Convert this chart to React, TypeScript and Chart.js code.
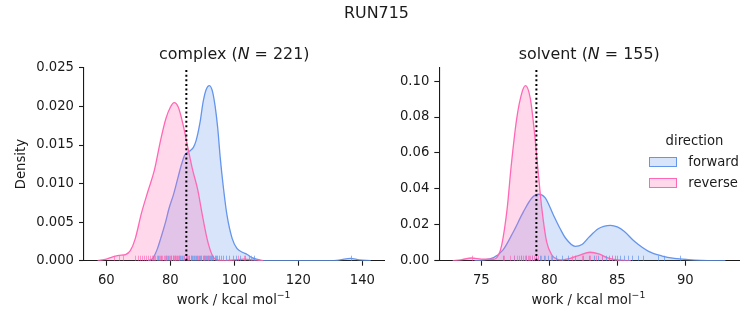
import React, { useEffect, useRef } from 'react';
import { Chart, registerables } from 'chart.js';

Chart.register(...registerables);

// ---------- text ----------
const SUPTITLE = 'RUN715';
const X_LABEL = 'work / kcal mol';
const X_LABEL_SUP = '\u22121';
const Y_LABEL = 'Density';
const LEGEND_TITLE = 'direction';
const SERIES_NAMES = ['forward', 'reverse'];
const PANEL_NAMES = ['complex', 'solvent'];
const PANEL_N = [221, 155];

// ---------- complex panel ----------
const complexForwardX = [73, 74.5, 76, 77, 78.5, 79.6, 81, 82.4, 83.5, 84.5, 85.5, 86.3, 87.2, 88, 89.3, 90.2, 91.2, 92.2, 93.2, 94, 94.8, 95.6, 96.6, 97.7, 99.3, 100.8, 102.5, 104, 105.5, 107, 109, 130, 133, 136.3, 139, 142.6];
const complexForwardY = [0, 0.0003, 0.0016, 0.0029, 0.005, 0.0068, 0.0086, 0.0108, 0.0125, 0.0137, 0.0141, 0.0143, 0.0147, 0.0155, 0.018, 0.0205, 0.0222, 0.0227, 0.0219, 0.02, 0.0172, 0.0133, 0.0094, 0.0059, 0.0029, 0.0016, 0.0011, 0.0008, 0.0004, 0.0002, 0, 0, 0.0001, 0.0003, 0.0001, 0];
const complexReverseX = [57.3, 60, 62, 64, 66, 67.5, 69, 71, 73, 75, 77, 78.6, 80, 81.2, 82.5, 84, 85.5, 87, 88.5, 90, 91.5, 93, 94.5, 97, 100, 103, 106, 109];
const complexReverseY = [0, 0.0002, 0.0005, 0.0007, 0.0008, 0.0013, 0.0028, 0.0062, 0.009, 0.0117, 0.0157, 0.0184, 0.0199, 0.0205, 0.0199, 0.0176, 0.0146, 0.0117, 0.0093, 0.0059, 0.0028, 0.0008, 0.0001, 0, 0.0001, 0.0002, 0.0001, 0];
const complexForwardRug = [74.6, 76.2, 77.0, 78.5, 79.3, 80.1, 80.8, 81.5, 82.0, 82.6, 83.1, 83.7, 84.2, 84.8, 85.3, 85.9, 86.4, 86.8, 87.3, 87.9, 88.4, 88.8, 89.2, 89.7, 90.1, 90.5, 90.9, 91.2, 91.5, 91.8, 92.1, 92.4, 92.7, 93.0, 93.4, 93.8, 94.2, 94.7, 95.3, 95.9, 96.6, 97.4, 98.3, 99.5, 100.6, 101.8, 103.2, 104.5, 106.0, 136.4];
const complexReverseRug = [62.5, 64.0, 65.1, 69.0, 69.8, 70.5, 71.2, 71.9, 72.5, 73.1, 73.6, 74.2, 74.8, 75.3, 75.9, 76.4, 76.9, 77.4, 77.9, 78.3, 78.7, 79.1, 79.5, 79.9, 80.3, 80.7, 81.1, 81.5, 81.9, 82.3, 82.8, 83.3, 83.8, 84.4, 85.0, 85.6, 86.3, 87.0, 87.8, 88.7, 89.6, 90.6, 91.8, 92.8, 101.2, 103.0, 105.2];
const complexMarker = 85.0;
const complexXTicks = [60, 80, 100, 120, 140];
const complexYTicks = [0, 0.005, 0.01, 0.015, 0.02, 0.025];

// ---------- solvent panel ----------
const solventForwardX = [74.5, 75, 75.9, 76.6, 77.35, 78.1, 78.7, 79.2, 79.7, 80.3, 80.8, 81.2, 81.9, 82.4, 82.9, 83.6, 84.0, 84.5, 85.0, 85.5, 86.3, 87.3, 88.3, 89.2, 90.2, 91.2, 92.95];
const solventForwardY = [0, 0.0003, 0.0017, 0.006, 0.016, 0.0273, 0.0348, 0.037, 0.035, 0.0255, 0.0178, 0.0125, 0.008, 0.009, 0.013, 0.0178, 0.0191, 0.0197, 0.0188, 0.0164, 0.0105, 0.0052, 0.0026, 0.0013, 0.0006, 0.0002, 0];
const solventReverseX = [72.9, 73.5, 74.3, 75.0, 75.9, 76.25, 76.5, 76.9, 77.2, 77.6, 78.0, 78.25, 78.6, 78.9, 79.2, 79.45, 79.8, 80.2, 80.6, 81.0, 81.5, 82.2, 83.0, 83.7, 84.3, 85.0, 86.0];
const solventReverseY = [0, 0.0005, 0.0015, 0.0009, 0.0008, 0.003, 0.0087, 0.029, 0.053, 0.079, 0.094, 0.0975, 0.0905, 0.072, 0.048, 0.029, 0.0106, 0.003, 0.0008, 0.0005, 0.0012, 0.003, 0.0047, 0.0036, 0.0016, 0.0004, 0];
const solventForwardRug = [76.6, 77.4, 77.9, 78.3, 78.7, 79.0, 79.3, 79.6, 79.9, 80.2, 80.5, 80.9, 81.4, 81.9, 82.5, 82.9, 83.3, 83.6, 83.9, 84.2, 84.4, 84.6, 84.8, 85.0, 85.2, 85.5, 85.8, 86.1, 86.5, 86.9, 88.0, 88.4, 89.6];
const solventReverseRug = [74.3, 76.7, 77.1, 77.4, 77.6, 77.8, 77.95, 78.1, 78.2, 78.3, 78.4, 78.5, 78.6, 78.75, 78.9, 79.05, 79.2, 79.4, 79.7, 80.1, 81.7, 82.4, 83.0, 83.4, 83.9, 84.6];
const solventMarker = 79.05;
const solventXTicks = [75, 80, 85, 90];
const solventYTicks = [0, 0.02, 0.04, 0.06, 0.08, 0.1];

// ---------- style ----------
const FONT = "'DejaVu Sans', 'Liberation Sans', sans-serif";
const TICK_SIZE = 13.2;
const TITLE_SIZE = 15.9;
const AX = '#1a1a1a';
const BLUE = '#6495ED';
const BLUE_FILL = 'rgba(100,149,237,0.26)';
const BLUE_RUG = 'rgba(100,149,237,0.7)';
const PINK = '#FF69B4';
const PINK_FILL = 'rgba(255,105,180,0.26)';
const PINK_RUG = 'rgba(255,105,180,0.65)';

type PanelOpts = {
  fwdX: number[]; fwdY: number[]; revX: number[]; revY: number[];
  fwdRug: number[]; revRug: number[]; marker: number;
  xMin: number; xMax: number; yMax: number;
  xTicks: number[]; yTicks: number[]; yDec: number;
  yAxisWidth: number; rightPad: number; showYTitle: boolean;
};

function buildConfig(p: PanelOpts): any {
  const rugPlugin = {
    id: 'rug',
    afterDatasetsDraw(chart: any) {
      const { ctx, chartArea, scales } = chart;
      const xs = scales.x;
      ctx.save();
      ctx.lineWidth = 1;
      const draw = (vals: number[], color: string) => {
        ctx.strokeStyle = color;
        vals.forEach((v) => {
          const px = Math.round(xs.getPixelForValue(v)) + 0.5;
          ctx.beginPath();
          ctx.moveTo(px, chartArea.bottom);
          ctx.lineTo(px, chartArea.bottom - 5);
          ctx.stroke();
        });
      };
      draw(p.fwdRug, BLUE_RUG);
      draw(p.revRug, PINK_RUG);
      // dotted marker line
      const mx = xs.getPixelForValue(p.marker);
      ctx.strokeStyle = '#000';
      ctx.lineWidth = 2;
      ctx.setLineDash([2, 2.6]);
      ctx.beginPath();
      ctx.moveTo(mx, chartArea.bottom);
      ctx.lineTo(mx, chartArea.top);
      ctx.stroke();
      ctx.restore();
    },
  };

  const tickFont = { family: FONT, size: TICK_SIZE };
  return {
    type: 'line',
    data: {
      datasets: [
        {
          label: SERIES_NAMES[1],
          data: p.revX.map((x, i) => ({ x, y: p.revY[i] })),
          borderColor: PINK,
          backgroundColor: PINK_FILL,
          fill: 'origin',
          borderWidth: 1.3,
          pointRadius: 0,
          cubicInterpolationMode: 'monotone',
        },
        {
          label: SERIES_NAMES[0],
          data: p.fwdX.map((x, i) => ({ x, y: p.fwdY[i] })),
          borderColor: BLUE,
          backgroundColor: BLUE_FILL,
          fill: 'origin',
          borderWidth: 1.3,
          pointRadius: 0,
          cubicInterpolationMode: 'monotone',
        },
      ],
    },
    options: {
      animation: false,
      responsive: false,
      maintainAspectRatio: false,
      events: [],
      layout: { padding: { top: 67.5, right: p.rightPad, bottom: 0, left: 0 } },
      plugins: { legend: { display: false }, tooltip: { enabled: false }, title: { display: false } },
      scales: {
        x: {
          type: 'linear',
          min: p.xMin,
          max: p.xMax,
          bounds: 'data',
          afterBuildTicks: (s: any) => { s.ticks = p.xTicks.map((v) => ({ value: v })); },
          afterFit: (s: any) => { s.height = 64.3; },
          grid: { display: true, drawOnChartArea: false, drawTicks: true, tickLength: 5, tickWidth: 1.1, tickColor: AX },
          border: { display: true, color: AX, width: 1.1 },
          ticks: { color: AX, font: tickFont, padding: 7, maxRotation: 0, autoSkip: false, callback: (v: any) => String(v) },
          title: { display: false },
        },
        y: {
          type: 'linear',
          min: 0,
          max: p.yMax,
          afterBuildTicks: (s: any) => { s.ticks = p.yTicks.map((v) => ({ value: v })); },
          afterFit: (s: any) => { s.width = p.yAxisWidth; },
          grid: { display: true, drawOnChartArea: false, drawTicks: true, tickLength: 5, tickWidth: 1.1, tickColor: AX },
          border: { display: true, color: AX, width: 1.1 },
          ticks: { color: AX, font: tickFont, padding: 5, autoSkip: false, callback: (v: any) => Number(v).toFixed(p.yDec) },
          title: { display: p.showYTitle, text: Y_LABEL, color: AX, font: tickFont, padding: { top: 13.8, bottom: 0 } },
        },
      },
    },
    plugins: [rugPlugin],
  };
}

export default function App() {
  const leftRef = useRef<HTMLCanvasElement | null>(null);
  const rightRef = useRef<HTMLCanvasElement | null>(null);

  useEffect(() => {
    const c1 = new Chart(leftRef.current as HTMLCanvasElement, buildConfig({
      fwdX: complexForwardX, fwdY: complexForwardY, revX: complexReverseX, revY: complexReverseY,
      fwdRug: complexForwardRug, revRug: complexReverseRug, marker: complexMarker,
      xMin: 53.03, xMax: 146.9, yMax: 0.02505,
      xTicks: complexXTicks, yTicks: complexYTicks, yDec: 3,
      yAxisWidth: 84, rightPad: 5.5, showYTitle: true,
    }));
    const c2 = new Chart(rightRef.current as HTMLCanvasElement, buildConfig({
      fwdX: solventForwardX, fwdY: solventForwardY, revX: solventReverseX, revY: solventReverseY,
      fwdRug: solventForwardRug, revRug: solventReverseRug, marker: solventMarker,
      xMin: 71.91, xMax: 93.95, yMax: 0.1076,
      xTicks: solventXTicks, yTicks: solventYTicks, yDec: 2,
      yAxisWidth: 49.3, rightPad: 14, showYTitle: false,
    }));
    return () => { c1.destroy(); c2.destroy(); };
  }, []);

  const abs = (extra: any): any => ({ position: 'absolute', whiteSpace: 'nowrap', lineHeight: 1, fontFamily: FONT, color: AX, ...extra });
  const xLabel = (cx: number) => (
    <div style={abs({ left: cx, top: 299.5, fontSize: TICK_SIZE, transform: 'translate(-50%,-50%)' })}>
      {X_LABEL}
      <span style={{ fontSize: 9.3, position: 'relative', top: -5.5 }}>{X_LABEL_SUP}</span>
    </div>
  );

  return (
    <div style={{ position: 'fixed', left: 0, top: 0, width: 753, height: 325, background: '#fff', overflow: 'hidden' }}>
      <canvas ref={leftRef} width={390} height={325} style={{ position: 'absolute', left: 0, top: 0, width: 390, height: 325 }} />
      <canvas ref={rightRef} width={363} height={325} style={{ position: 'absolute', left: 390, top: 0, width: 363, height: 325 }} />
      <div style={abs({ left: 376.5, top: 12.5, fontSize: TITLE_SIZE, transform: 'translate(-50%,-50%)' })}>{SUPTITLE}</div>
      <div style={abs({ left: 234.3, top: 54, fontSize: TITLE_SIZE, transform: 'translate(-50%,-50%)' })}>
        {PANEL_NAMES[0]} (<i>N</i> = {PANEL_N[0]})
      </div>
      <div style={abs({ left: 589.2, top: 54, fontSize: TITLE_SIZE, transform: 'translate(-50%,-50%)' })}>
        {PANEL_NAMES[1]} (<i>N</i> = {PANEL_N[1]})
      </div>
      {xLabel(233.6)}
      {xLabel(588.4)}
      <div style={abs({ left: 694.5, top: 141, fontSize: TICK_SIZE, transform: 'translate(-50%,-50%)' })}>{LEGEND_TITLE}</div>
      <div style={{ position: 'absolute', left: 649.3, top: 157.3, width: 27.4, height: 10, boxSizing: 'border-box', border: `1.3px solid ${BLUE}`, background: BLUE_FILL }} />
      <div style={{ position: 'absolute', left: 649.3, top: 178.3, width: 27.4, height: 10, boxSizing: 'border-box', border: `1.3px solid ${PINK}`, background: PINK_FILL }} />
      <div style={abs({ left: 688.3, top: 162.3, fontSize: TICK_SIZE, transform: 'translateY(-50%)' })}>{SERIES_NAMES[0]}</div>
      <div style={abs({ left: 688.3, top: 183.3, fontSize: TICK_SIZE, transform: 'translateY(-50%)' })}>{SERIES_NAMES[1]}</div>
    </div>
  );
}
